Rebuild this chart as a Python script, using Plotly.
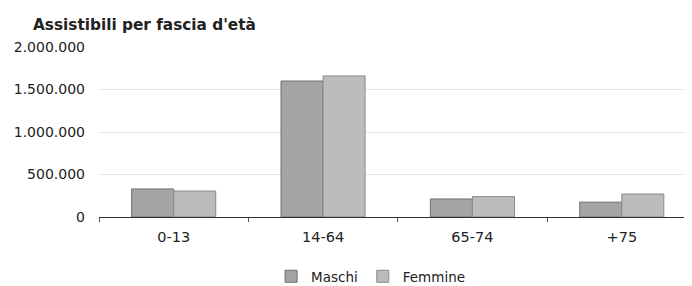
import plotly.graph_objects as go

categories = ["0-13", "14-64", "65-74", "+75"]
maschi = [330000, 1600000, 212000, 175000]
femmine = [306000, 1660000, 240000, 270000]
y_ticks = [0, 500000, 1000000, 1500000, 2000000]

FONT = "DejaVu Sans, Verdana, sans-serif"

# The page body has an 8px default margin, so the figure is sized to fill the rest of the window.
W, H = 684, 278

fig = go.Figure()
fig.add_trace(go.Bar(name="Maschi", x=categories, y=maschi,
                     marker=dict(color="#a4a4a4", line=dict(color="#6e6e6e", width=1))))
fig.add_trace(go.Bar(name="Femmine", x=categories, y=femmine,
                     marker=dict(color="#bcbcbc", line=dict(color="#8a8a8a", width=1))))

fig.update_layout(
    width=W, height=H,
    margin=dict(l=91, r=0, t=39, b=69, autoexpand=False),
    paper_bgcolor="white", plot_bgcolor="white",
    separators=",.",
    barmode="group", bargap=0.437, bargroupgap=0,
    font=dict(family=FONT, size=14, color="#222222"),
    title=dict(text="<b>Assistibili per fascia d'età</b>", x=25/W, xref="container", xanchor="left",
               y=1-17/H, yref="container", yanchor="middle",
               font=dict(family=FONT, size=15.3, color="#222222")),
    showlegend=True,
    legend=dict(orientation="h", x=0.458, xanchor="center", y=-0.35, yanchor="middle",
                font=dict(family=FONT, size=13.5), itemwidth=30, traceorder="normal",
                tracegroupgap=0),
)
fig.update_yaxes(range=[0, 2000000], tickvals=y_ticks, tickformat=",d", automargin=False,
                 showgrid=True, gridcolor="#e4e4e4", gridwidth=1,
                 zeroline=False, showline=False, ticks="", ticklabelstandoff=13)
fig.update_xaxes(range=[-0.5, 3.47], automargin=False,
                 showline=True, linecolor="#333333", linewidth=1,
                 ticks="outside", tickson="boundaries", ticklen=4, tickcolor="#555555",
                 tickfont=dict(size=14.5), ticklabelstandoff=7)

fig.write_html("out.html")
